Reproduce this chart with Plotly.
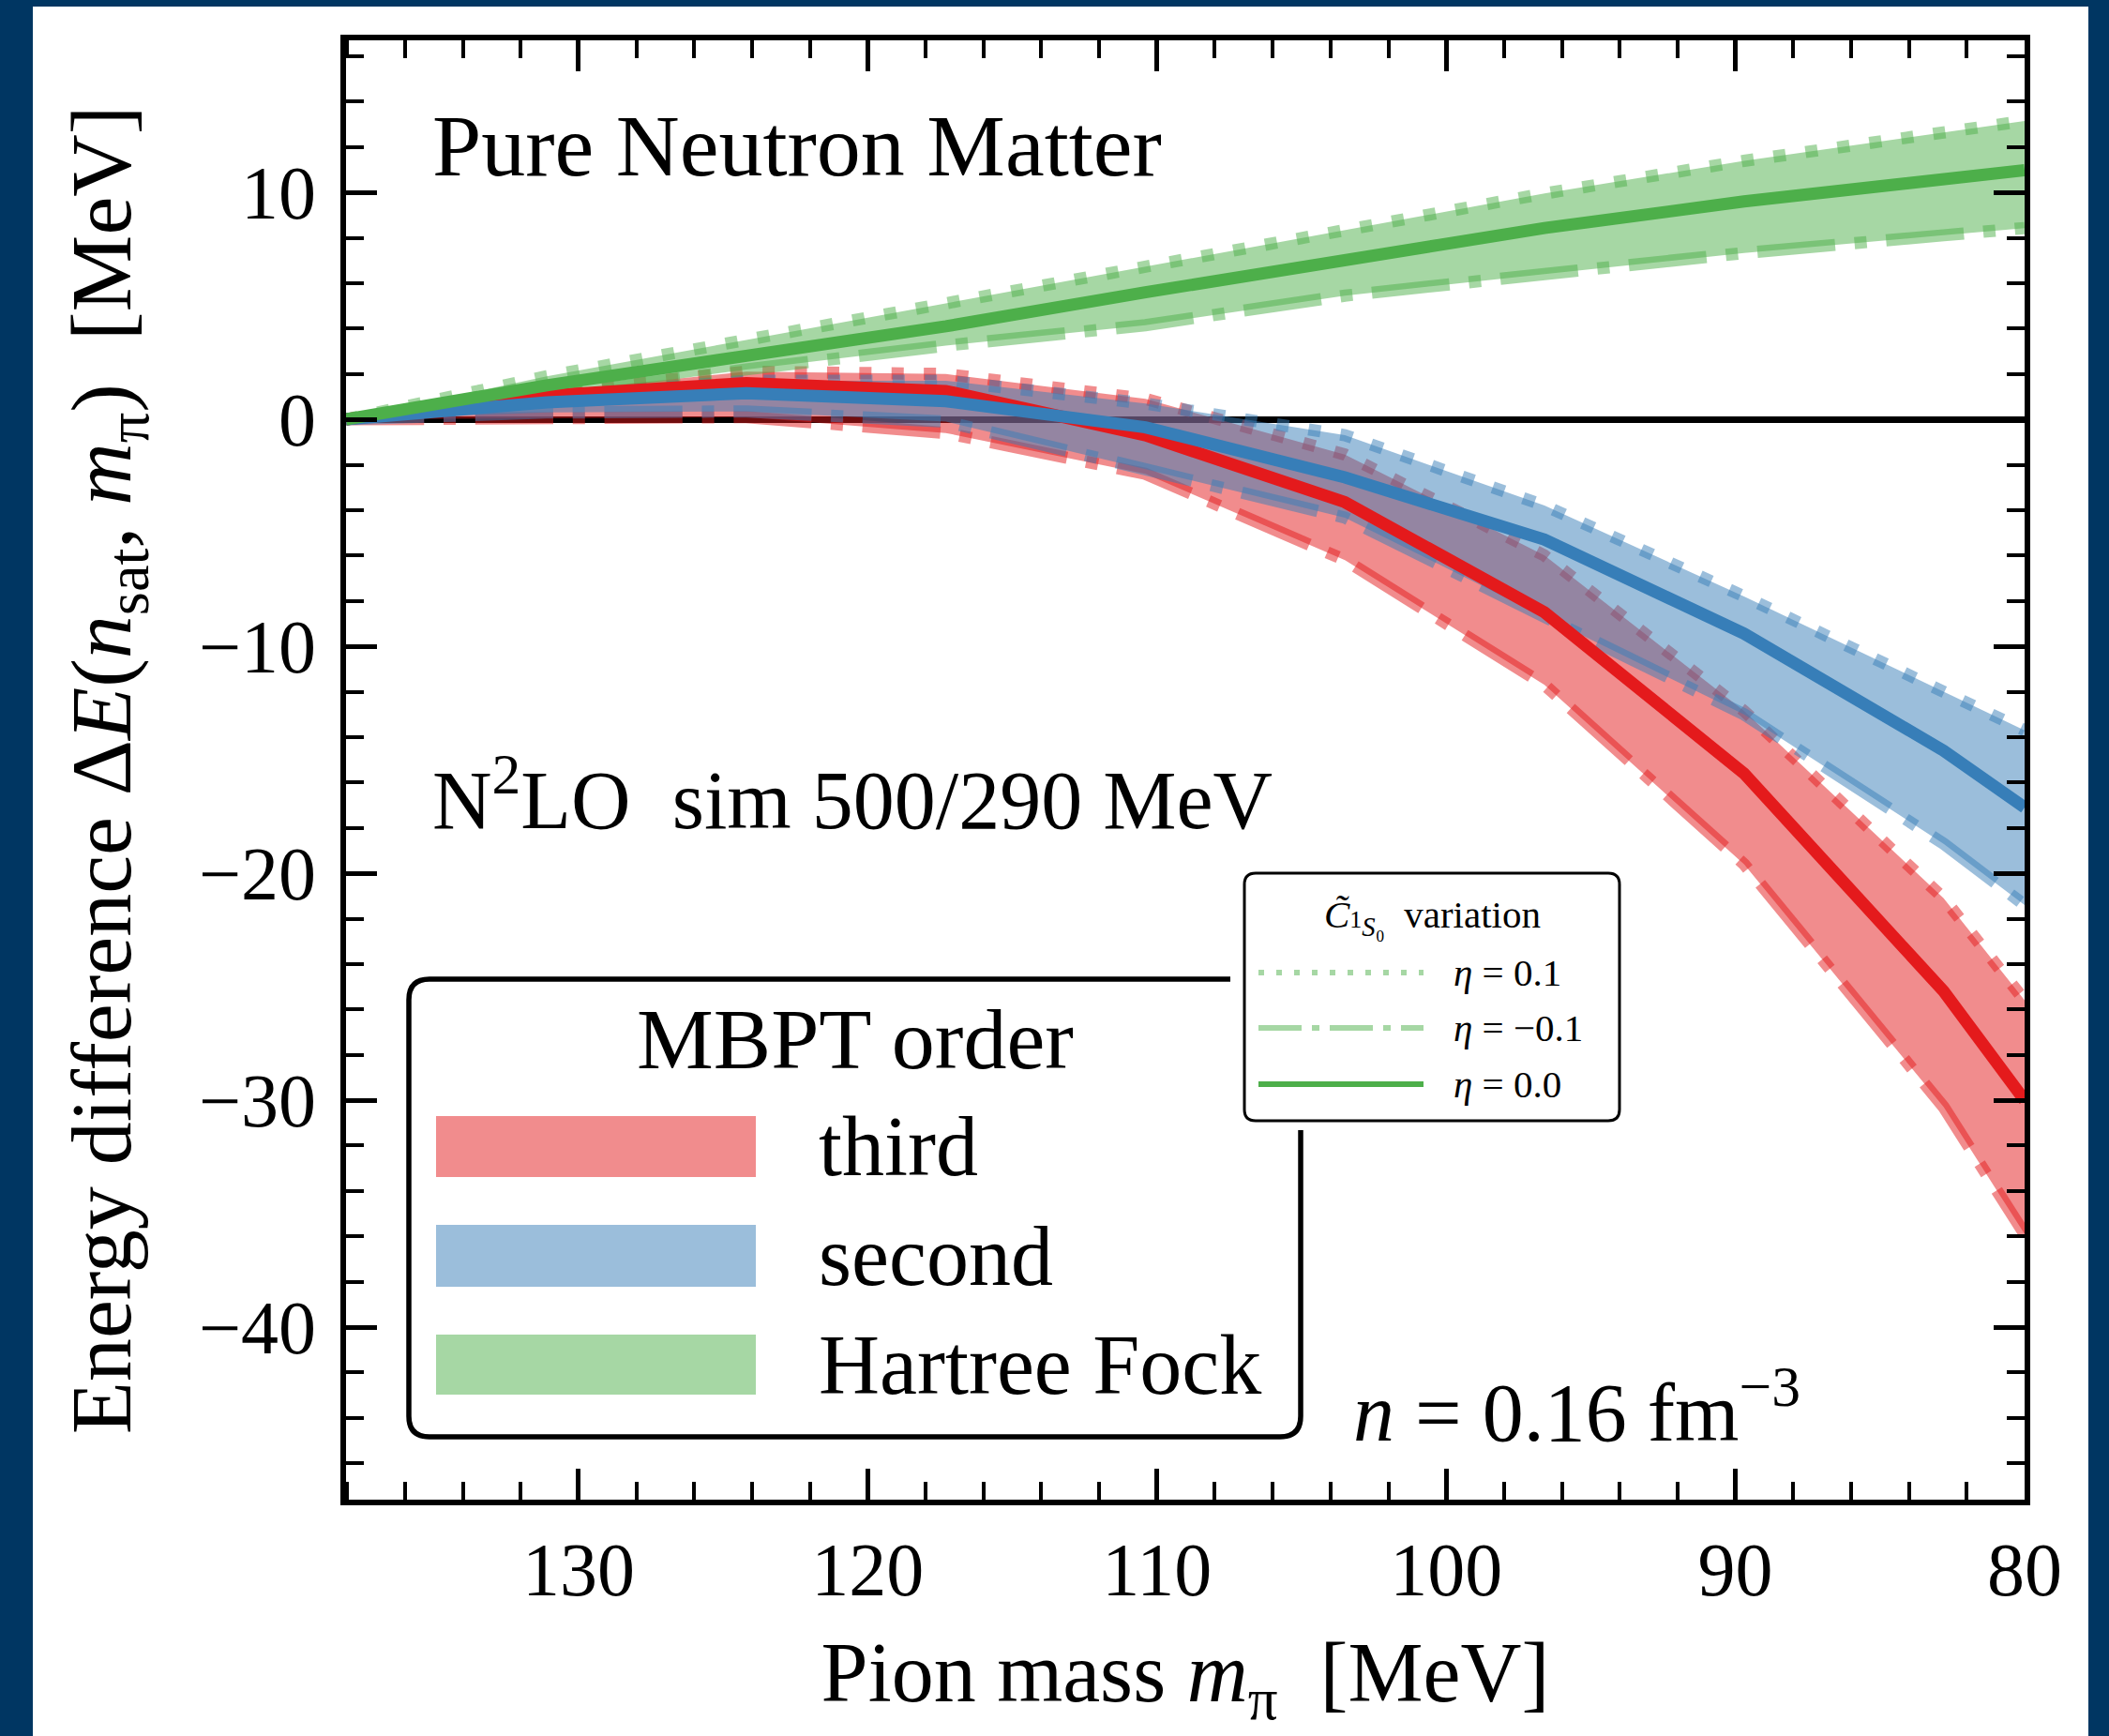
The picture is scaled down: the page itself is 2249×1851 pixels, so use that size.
import plotly.graph_objects as go

# Pion mass grid [MeV]
mpi = [138.04, 131.1, 124.2, 117.3, 110.4, 103.5, 96.6, 89.7, 82.8, 80.0]

# Energy difference ΔE(n_sat, m_pi) [MeV] for each MBPT order and C(1S0) variation
third_eta0 = [0, 1.05, 1.6, 1.25, -0.7, -3.65, -8.5, -15.6, -25.2, -30.0]
third_eta_p = [0, 1.2, 2.1, 2.0, 0.9, -1.55, -6.0, -12.85, -21.1, -25.6]
third_eta_m = [0, 0.1, 0.1, -0.6, -2.4, -6.2, -11.7, -19.6, -30.3, -35.9]

second_eta0 = [0, 0.75, 1.15, 0.8, -0.35, -2.56, -5.3, -9.44, -14.6, -17.1]
second_eta_p = [0, 1.0, 1.7, 1.7, 0.7, -0.7, -3.8, -7.8, -12.0, -13.7]
second_eta_m = [0, 0.3, 0.35, -0.1, -2.2, -4.33, -8.7, -13.0, -18.7, -21.4]

hf_eta0 = [0, 1.5, 2.8, 4.1, 5.6, 7.05, 8.43, 9.6, 10.57, 10.98]
hf_eta_p = [0, 1.9, 3.5, 5.1, 6.7, 8.35, 9.95, 11.39, 12.7, 13.15]
hf_eta_m = [0, 1.0, 2.2, 3.25, 4.15, 5.45, 6.4, 7.33, 8.11, 8.43]

orders = ["third", "second", "Hartree Fock"]
order_rgb = {"third": (228, 26, 28), "second": (55, 126, 184), "Hartree Fock": (77, 175, 74)}
order_data = {
    "third": (third_eta0, third_eta_p, third_eta_m),
    "second": (second_eta0, second_eta_p, second_eta_m),
    "Hartree Fock": (hf_eta0, hf_eta_p, hf_eta_m),
}
eta_labels = ["η = 0.1", "η = −0.1", "η = 0.0"]

FONT = "Liberation Serif"
W, H = 2249, 1851
L, R, T, B = 369, 90, 43, 252
PW, PH = W - L - R, H - T - B
LW = 13
DOT = f"{LW}px,{LW*1.65:.1f}px"
DASHDOT = f"{LW*6.4:.1f}px,{LW*1.6:.1f}px,{LW}px,{LW*1.6:.1f}px"


def rgba(rgb, a):
    return f"rgba({rgb[0]},{rgb[1]},{rgb[2]},{a})"


def px(x, y):
    """pixel position -> paper coordinates"""
    return (x - L) / PW, (H - B - y) / PH


def rounded_rect(x0, y0, x1, y1, r):
    def P(x, y):
        u, v = px(x, y)
        return f"{u:.5f},{v:.5f}"
    return ("M " + P(x0 + r, y0) + " L " + P(x1 - r, y0) + " Q " + P(x1, y0) + " " + P(x1, y0 + r)
            + " L " + P(x1, y1 - r) + " Q " + P(x1, y1) + " " + P(x1 - r, y1)
            + " L " + P(x0 + r, y1) + " Q " + P(x0, y1) + " " + P(x0, y1 - r)
            + " L " + P(x0, y0 + r) + " Q " + P(x0, y0) + " " + P(x0 + r, y0) + " Z")


fig = go.Figure()

# bands with the η = ±0.1 boundaries
for name in orders:
    rgb = order_rgb[name]
    c0, cp, cm = order_data[name]
    fig.add_trace(go.Scatter(x=mpi, y=cm, mode="lines", showlegend=False, hoverinfo="skip",
                             line=dict(color=rgba(rgb, 0.5), width=LW, dash=DASHDOT)))
    fig.add_trace(go.Scatter(x=mpi, y=cp, mode="lines", showlegend=False, hoverinfo="skip",
                             fill="tonexty", fillcolor=rgba(rgb, 0.5),
                             line=dict(color=rgba(rgb, 0.5), width=LW, dash=DOT)))

# central η = 0 curves
for name in orders:
    rgb = order_rgb[name]
    fig.add_trace(go.Scatter(x=mpi, y=order_data[name][0], mode="lines", name=name,
                             showlegend=False, line=dict(color=rgba(rgb, 1), width=LW)))

shapes = []
# white card on the dark frame
cx0, cy0 = px(35, 7)
cx1, cy1 = px(2227, H + 20)
shapes.append(dict(type="rect", xref="paper", yref="paper", x0=cx0, y0=cy1, x1=cx1, y1=cy0,
                   fillcolor="white", line=dict(width=0), layer="below"))

# MBPT order legend
shapes.append(dict(type="path", xref="paper", yref="paper", layer="above",
                   path=rounded_rect(436, 1044, 1387, 1532, 22),
                   fillcolor="white", line=dict(color="black", width=5.5)))
patch_y = [(1190, 1255), (1306, 1372), (1423, 1487)]
for name, (ya, yb) in zip(orders, patch_y):
    u0, v0 = px(465, yb)
    u1, v1 = px(806, ya)
    shapes.append(dict(type="rect", xref="paper", yref="paper", x0=u0, y0=v0, x1=u1, y1=v1,
                       fillcolor=rgba(order_rgb[name], 0.5), line=dict(width=0), layer="above"))

# C(1S0) variation legend
wx0, wy0 = px(1312, 918)
wx1, wy1 = px(1740, 1205)
shapes.append(dict(type="rect", xref="paper", yref="paper", x0=wx0, y0=wy1, x1=wx1, y1=wy0,
                   fillcolor="white", line=dict(width=0), layer="above"))
shapes.append(dict(type="path", xref="paper", yref="paper", layer="above",
                   path=rounded_rect(1327, 931, 1727, 1195, 12),
                   fillcolor="white", line=dict(color="black", width=3)))
hf_rgb = order_rgb["Hartree Fock"]
for yy, dash, col in [(1037, "6px,13px", rgba(hf_rgb, 0.5)),
                      (1096, "46px,11px,8px,11px", rgba(hf_rgb, 0.5)),
                      (1156, "solid", rgba(hf_rgb, 1))]:
    u0, v = px(1342, yy)
    u1, _ = px(1518, yy)
    shapes.append(dict(type="line", xref="paper", yref="paper", x0=u0, x1=u1, y0=v, y1=v,
                       layer="above", line=dict(color=col, width=6, dash=dash)))

annotations = []


def text(x, y, s, size, anchor="left"):
    u, v = px(x, y)
    annotations.append(dict(x=u, y=v, xref="paper", yref="paper", text=s, showarrow=False,
                            xanchor=anchor, yanchor="middle",
                            font=dict(family=FONT, size=size, color="black")))


text(459, 155, "Pure Neutron Matter", 94)
text(459, 846, "N<sup>2</sup>LO  sim 500/290 MeV", 88)
text(1441, 1499, "<i>n</i> = 0.16 fm<sup>−3</sup>", 88)
text(912, 1108, "MBPT order", 92, "center")
for name, (ya, yb) in zip(orders, patch_y):
    text(871, (ya + yb) / 2, name, 90)
text(1527, 978,
     "<i>C̃</i><span style='font-size:26px'>1</span><sub><i>S</i>₀</sub>  variation", 41, "center")
for yy, lab in zip([1037, 1096, 1156], eta_labels):
    text(1548, yy, "<i>η</i>" + lab[1:], 41)

axis_common = dict(
    showline=True, linecolor="black", linewidth=6, mirror="allticks",
    ticks="inside", ticklen=33, tickwidth=4.5, tickcolor="black",
    showgrid=False, dtick=10,
    tickfont=dict(family=FONT, size=80, color="black"),
    minor=dict(ticks="inside", ticklen=19, tickwidth=3.5, tickcolor="black", dtick=2, showgrid=False),
)

fig.update_layout(
    width=W, height=H,
    margin=dict(l=L, r=R, t=T, b=B),
    paper_bgcolor="#003662", plot_bgcolor="white",
    showlegend=False,
    shapes=shapes, annotations=annotations,
    xaxis=dict(range=[138.04, 80], tick0=0, zeroline=False,
               title=dict(text="Pion mass <i>m</i><sub>π</sub>  [MeV]",
                          font=dict(family=FONT, size=90, color="black"), standoff=36),
               **axis_common),
    yaxis=dict(range=[-47.6, 16.7], tick0=0, zeroline=True, zerolinecolor="black", zerolinewidth=7,
               ticklabelstandoff=10,
               title=dict(text="Energy difference Δ<i>E</i>(<i>n</i><sub>sat</sub>, <i>m</i><sub>π</sub>)  [MeV]",
                          font=dict(family=FONT, size=92, color="black"), standoff=44),
               **axis_common),
)

fig.write_html("out.html")
